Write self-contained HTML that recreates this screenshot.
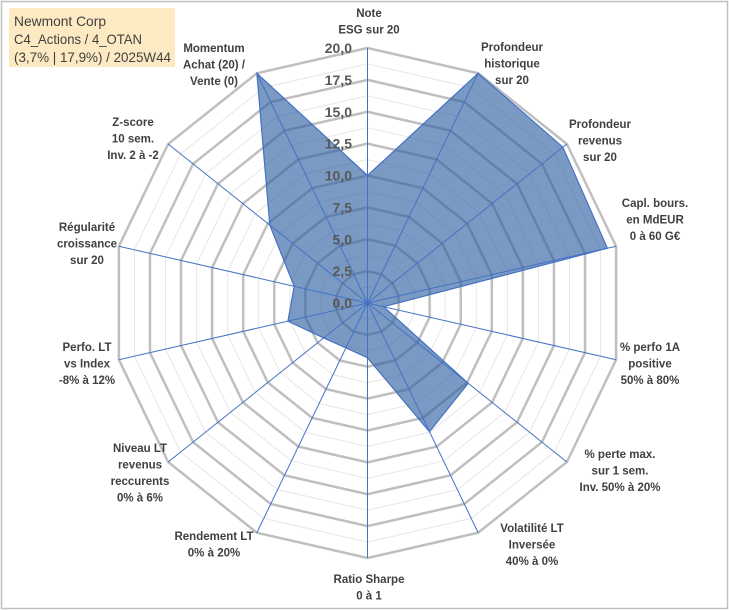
<!DOCTYPE html>
<html><head><meta charset="utf-8"><style>
html,body{margin:0;padding:0;background:#fff;}
#wrap{position:relative;width:729px;height:610px;overflow:hidden;}
svg text{font-family:"Liberation Sans",sans-serif;}
</style></head><body>
<div id="wrap">
<svg id="chart" width="729" height="610">
<rect x="1.5" y="1.5" width="726" height="607" fill="#fff" stroke="#bfbfbf" stroke-width="1.5"/>
<g id="grid"></g><g id="series"></g><g id="spokes"></g><g id="ticks"></g><g id="labels"></g>
<rect x="9" y="8" width="166" height="59" fill="#fdeac2"/>
<text x="14" y="26" font-size="14" fill="#404040" textLength="92" lengthAdjust="spacingAndGlyphs">Newmont Corp</text>
<text x="14" y="44" font-size="14" fill="#404040" textLength="128" lengthAdjust="spacingAndGlyphs">C4_Actions / 4_OTAN</text>
<text x="14" y="62" font-size="14" fill="#404040" textLength="157" lengthAdjust="spacingAndGlyphs">(3,7% | 17,9%) / 2025W44</text>
</svg>
</div>
<script>
const categories = [
 ["Note","ESG sur 20"],["Profondeur","historique","sur 20"],["Profondeur","revenus","sur 20"],
 ["Capl. bours.","en MdEUR","0 à 60 G€"],["% perfo 1A","positive","50% à 80%"],
 ["% perte max.","sur 1 sem.","Inv. 50% à 20%"],["Volatilité LT","Inversée","40% à 0%"],
 ["Ratio Sharpe","0 à 1"],["Rendement LT","0% à 20%"],["Niveau LT","revenus","reccurents","0% à 6%"],
 ["Perfo. LT","vs Index","-8% à 12%"],["Régularité","croissance","sur 20"],
 ["Z-score","10 sem.","Inv. 2 à -2"],["Momentum","Achat (20) /","Vente (0)"]
];
const values = [10, 20, 19.6, 19.3, 1.3, 10.1, 11.2, 4.3, 3.9, 4.4, 6.4, 5.9, 9.8, 20];
const tickLabels = ["0,0","2,5","5,0","7,5","10,0","12,5","15,0","17,5","20,0"];
const tickValues = [0,2.5,5,7.5,10,12.5,15,17.5,20];
const labelPos = [[369,17],[512,51],[600,128],[655,207],[650,351],[620,458],[532,532],[369,583],[214,540],[140,452],[87,351],[87,231],[133,126],[214,52]];

const cx=367.5, cy=303, R=255, maxV=20, N=categories.length;
const NS="http://www.w3.org/2000/svg";
function rScale(v){return v/maxV*R;}
function pt(i,v){const a=i*2*Math.PI/N;return [cx+rScale(v)*Math.sin(a), cy-rScale(v)*Math.cos(a)];}
function mk(tag,attrs,parent){const e=document.createElementNS(NS,tag);for(const k in attrs)e.setAttribute(k,attrs[k]);parent.appendChild(e);return e;}
const grid=document.getElementById('grid');
for(let k=1;k<=16;k++){
  const v=k*1.25, major=k%2===0;
  const p=[];for(let i=0;i<N;i++)p.push(pt(i,v).join(','));
  const el=mk('polygon',{points:p.join(' '),fill:'none',stroke:major?'#bfbfbf':'#e6e6e6','stroke-width':major?2.5:1},grid);
  
  
}
const series=document.getElementById('series');
const sp=values.map((v,i)=>pt(i,v).join(','));
const poly=mk('polygon',{points:sp.join(' '),fill:'rgb(45,95,160)','fill-opacity':0.63,stroke:'#4472c4','stroke-width':1.2},series);


const spokes=document.getElementById('spokes');
for(let i=0;i<N;i++){
  const e=pt(i,maxV);
  const l=mk('line',{x1:cx,y1:cy,x2:e[0],y2:e[1],stroke:'#4472c4','stroke-width':1},spokes);
  
  
}
const ticks=document.getElementById('ticks');
tickValues.forEach((v,k)=>{
  const t=mk('text',{x:352,y:cy-rScale(v)+5,'text-anchor':'end','font-size':14,'font-weight':'bold',fill:'#595959'},ticks);
  t.textContent=tickLabels[k];
  
  
});
const labels=document.getElementById('labels');
categories.forEach((lines,i)=>{
  const t=mk('text',{'text-anchor':'middle','font-size':11.5,'font-weight':'bold',fill:'#404040'},labels);
  
  
  lines.forEach((s,j)=>{const ts=mk('tspan',{x:labelPos[i][0],y:labelPos[i][1]+j*16.5},t);ts.textContent=s;});
});
</script>
</body></html>
